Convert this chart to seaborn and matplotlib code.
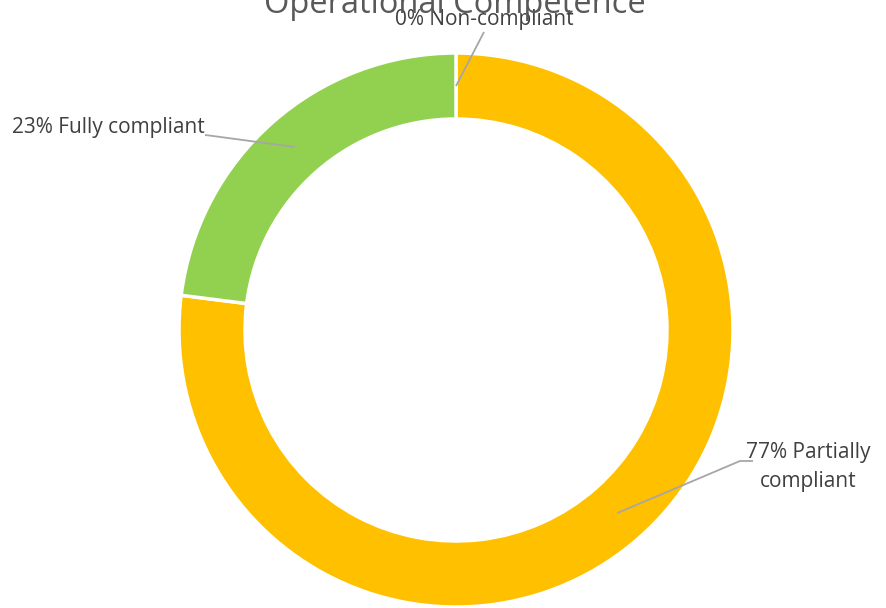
import numpy as np
import matplotlib
matplotlib.use("Agg")
import matplotlib.pyplot as plt
import seaborn as sns

# data, clockwise from 12 o'clock
categories = ["Non-compliant", "Partially\ncompliant", "Fully compliant"]
values = [0, 77, 23]
colors = ["#FF0000", "#FFC000", "#92D050"]

sns.set_theme(style="white")
plt.rcParams["font.family"] = ["Open Sans", "DejaVu Sans"]

W, H = 887, 608
fig = plt.figure(figsize=(W / 100, H / 100), dpi=100)
ax = fig.add_axes([0, 0, 1, 1])

cx, cy, R = 456, H - 330, 277
ring = 66
wedges, _ = ax.pie(values, colors=colors, startangle=90, counterclock=False,
                   center=(cx, cy), radius=R, frame=True,
                   wedgeprops=dict(width=ring, edgecolor="white", linewidth=2.5))
ax.set_xlim(0, W)
ax.set_ylim(0, H)
ax.set_aspect("equal")
ax.axis("off")

# label anchors and leader-line elbows (pixels from top-left)
label_pos = [(484, 19, "center"), (808, 467, "center"), (205, 128, "right")]
leader_end = [(484, 32), (753, 461), (205, 135)]
elbow = [None, (740, 461), (213, 136)]
rmid = R - ring / 2
for w, v, name, (lx, ly, ha), end, el in zip(wedges, values, categories,
                                             label_pos, leader_end, elbow):
    ang = np.deg2rad((w.theta1 + w.theta2) / 2)
    px, py = cx + rmid * np.cos(ang), cy + rmid * np.sin(ang)
    ax.text(lx, H - ly, f"{v}% {name}", ha=ha, va="center", fontsize=15,
            color="#404040", linespacing=1.5)
    pts = [(px, py)]
    if el is not None:
        pts.append((el[0], H - el[1]))
    pts.append((end[0], H - end[1]))
    xs, ys = zip(*pts)
    ax.plot(xs, ys, color="#A6A6A6", lw=1.3, solid_capstyle="butt")

ax.text(455, H - 13, "Operational Competence", ha="center", va="baseline",
        fontsize=23.5, color="#595959")

fig.savefig("out.png", dpi=100)
